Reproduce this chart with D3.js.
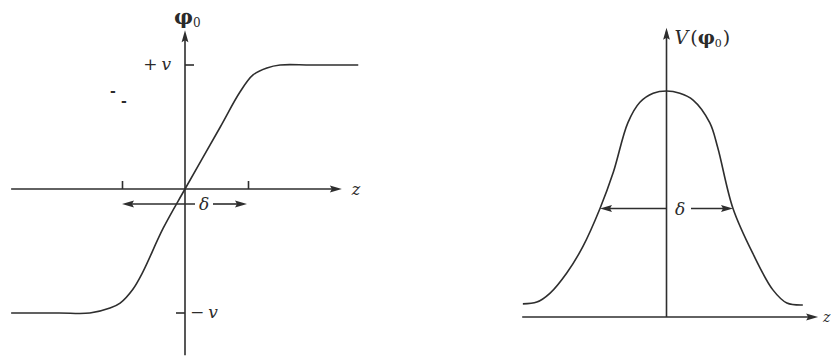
<!DOCTYPE html>
<html>
<head>
<meta charset="utf-8">
<script src="https://cdn.jsdelivr.net/npm/d3@7"></script>
<style>
  html, body { margin: 0; padding: 0; background: #fff; }
  svg { display: block; }
  .lbl { font-family: "DejaVu Serif", "Liberation Serif", serif; fill: #2b2b2b; }
</style>
</head>
<body>
<svg id="chart" width="833" height="356"></svg>
<script>
// Kink profile phi0(z): z in units of the half-width, phi0 in units of v
const kinkZ   = [-2.76, -2.0, -1.51, -1.19, -1.03, -0.83, -0.67, -0.35, 0, 0.56, 0.87, 1.08, 1.30, 1.51, 2.0, 2.75];
const kinkPhi = [-1, -1, -1, -0.96, -0.92, -0.81, -0.67, -0.32, 0, 0.50, 0.78, 0.92, 0.976, 1, 1, 1];

// Potential V(phi0) along z, normalised to its peak
const bellZ = [-2.16, -1.95, -1.75, -1.50, -1.26, -1.00, -0.80, -0.58, -0.40, -0.20, 0,
               0.20, 0.40, 0.65, 0.77, 1.00, 1.30, 1.60, 1.81, 2.05];
const bellV = [0.058, 0.066, 0.106, 0.195, 0.31, 0.48, 0.64, 0.86, 0.95, 0.99, 1,
               0.99, 0.96, 0.86, 0.75, 0.48, 0.28, 0.12, 0.062, 0.053];

// Axis tick values and labels
const zTicks = [-1, 1];
const phiTicks = [1, -1];
const phiTickLabels = ["+ v", "− v"];

const svg = d3.select("#chart");
const ink = "#2e2e2e";

// Scales: left panel (kink) and right panel (potential)
const xL = d3.scaleLinear().domain([-1, 1]).range([122, 248]);
const yL = d3.scaleLinear().domain([-1, 1]).range([313, 65]);
const xR = d3.scaleLinear().domain([-1, 1]).range([600, 733]);
const yR = d3.scaleLinear().domain([0, 1]).range([317, 91]);

function arrowHead(g, x, y, dir, len = 12, half = 3.4) {
  let p;
  if (dir === "r") p = [[x, y], [x - len, y - half], [x - len + 2, y], [x - len, y + half]];
  else if (dir === "l") p = [[x, y], [x + len, y - half], [x + len - 2, y], [x + len, y + half]];
  else p = [[x, y], [x - half, y + len], [x, y + len - 2], [x + half, y + len]];
  g.append("path").attr("d", "M" + p.map(d => d.join(",")).join("L") + "Z").attr("fill", ink);
}
function hline(g, x1, x2, y) {
  g.append("line").attr("x1", x1).attr("x2", x2).attr("y1", y).attr("y2", y)
    .attr("stroke", ink).attr("stroke-width", 1.6);
}
function vline(g, x, y1, y2) {
  g.append("line").attr("x1", x).attr("x2", x).attr("y1", y1).attr("y2", y2)
    .attr("stroke", ink).attr("stroke-width", 1.6);
}

// ---------- Left panel: kink solution ----------
const gL = svg.append("g");
const x0 = xL(0), y0 = yL(0);

hline(gL, xL(-2.76), xL(2.49) - 4, y0);
arrowHead(gL, xL(2.49), y0, "r");
vline(gL, x0, yL(-1.34), yL(1.28) + 4);
arrowHead(gL, x0, yL(1.28), "u");

// z ticks (pointing up)
gL.append("g")
  .attr("transform", `translate(0,${y0})`)
  .call(d3.axisTop(xL).tickValues(zTicks).tickSize(8).tickSizeOuter(0).tickFormat(""))
  .call(g => g.select(".domain").remove())
  .call(g => g.selectAll(".tick line").attr("stroke", ink).attr("stroke-width", 1.6));

// phi0 ticks: +v to the right of the axis, -v to the left
phiTicks.forEach((v, i) => {
  const y = yL(v);
  const right = v > 0;
  gL.append("line").attr("x1", x0).attr("x2", right ? x0 + 9 : x0 - 9)
    .attr("y1", y).attr("y2", y).attr("stroke", ink).attr("stroke-width", 1.6);
  const t = gL.append("text").attr("class", "lbl")
    .attr("x", right ? x0 - 14 : x0 + 5).attr("y", y + 5)
    .attr("text-anchor", right ? "end" : "start").attr("font-size", 17);
  const parts = phiTickLabels[i].split(" ");
  t.append("tspan").text(parts[0]);
  t.append("tspan").attr("dx", 4).attr("font-style", "italic").text(parts[1]);
});

// kink curve
const kinkData = kinkZ.map((z, i) => ({ z, p: kinkPhi[i] }));
gL.append("path")
  .datum(kinkData)
  .attr("fill", "none").attr("stroke", ink).attr("stroke-width", 1.6)
  .attr("d", d3.line().x(d => xL(d.z)).y(d => yL(d.p)).curve(d3.curveCatmullRom.alpha(0.5)));

// width arrow delta
const dyL = y0 + 15;
hline(gL, xL(-1) + 6, 195, dyL);
hline(gL, 213, xL(1) - 6, dyL);
arrowHead(gL, xL(-1), dyL, "l");
arrowHead(gL, xL(1) - 1, dyL, "r");
gL.append("text").attr("class", "lbl").attr("x", 204).attr("y", dyL + 6)
  .attr("text-anchor", "middle").attr("font-size", 17).attr("font-style", "italic").text("δ");

// axis labels
gL.append("text").attr("class", "lbl").attr("x", xL(2.49) + 10).attr("y", y0 + 6)
  .attr("font-size", 16).attr("font-style", "italic").attr("fill", "#777").text("z");
const phiLbl = gL.append("text").attr("class", "lbl").attr("x", x0 - 11).attr("y", 24)
  .attr("font-size", 21).attr("font-weight", "bold");
phiLbl.append("tspan").text("φ");
phiLbl.append("tspan").attr("font-size", 12).attr("font-weight", "normal").attr("dy", 3).text("0");

// small stray marks near the upper left
gL.append("text").attr("class", "lbl").attr("x", 110).attr("y", 96).attr("font-size", 14).attr("font-weight", "bold").text("-");
gL.append("text").attr("class", "lbl").attr("x", 121).attr("y", 106).attr("font-size", 14).attr("font-weight", "bold").text("-");

// ---------- Right panel: potential ----------
const gR = svg.append("g");
const xr0 = xR(0), yr0 = yR(0);

hline(gR, xR(-2.17), xR(2.28) - 4, yr0);
arrowHead(gR, xR(2.28), yr0, "r");
vline(gR, xr0, yr0, yR(1.28) + 4);
arrowHead(gR, xr0, yR(1.28), "u");

const bellData = bellZ.map((z, i) => ({ z, v: bellV[i] }));
gR.append("path")
  .datum(bellData)
  .attr("fill", "none").attr("stroke", ink).attr("stroke-width", 1.6)
  .attr("d", d3.line().x(d => xR(d.z)).y(d => yR(d.v)).curve(d3.curveCatmullRom.alpha(0.5)));

// width arrow delta at half height
const dyR = yR(0.48);
hline(gR, xR(-1) + 6, xr0, dyR);
hline(gR, 691, xR(1) - 6, dyR);
arrowHead(gR, xR(-1), dyR, "l");
arrowHead(gR, xR(1), dyR, "r");
gR.append("text").attr("class", "lbl").attr("x", 680).attr("y", dyR + 6)
  .attr("text-anchor", "middle").attr("font-size", 17).attr("font-style", "italic").text("δ");

// V(phi0) label
const vLbl = gR.append("text").attr("class", "lbl").attr("x", xr0 + 8).attr("y", 44)
  .attr("font-size", 19);
vLbl.append("tspan").attr("font-style", "italic").text("V");
vLbl.append("tspan").attr("dx", 2).text("(");
vLbl.append("tspan").attr("font-weight", "bold").text("φ");
vLbl.append("tspan").attr("font-size", 11).attr("dy", 3).text("0");
vLbl.append("tspan").attr("dy", -3).attr("dx", 1).text(")");

// z label squeezed in at the right edge
gR.append("text").attr("class", "lbl").attr("x", 823).attr("y", yr0 + 5)
  .attr("font-size", 14).attr("font-style", "italic").text("z");
</script>
</body>
</html>
